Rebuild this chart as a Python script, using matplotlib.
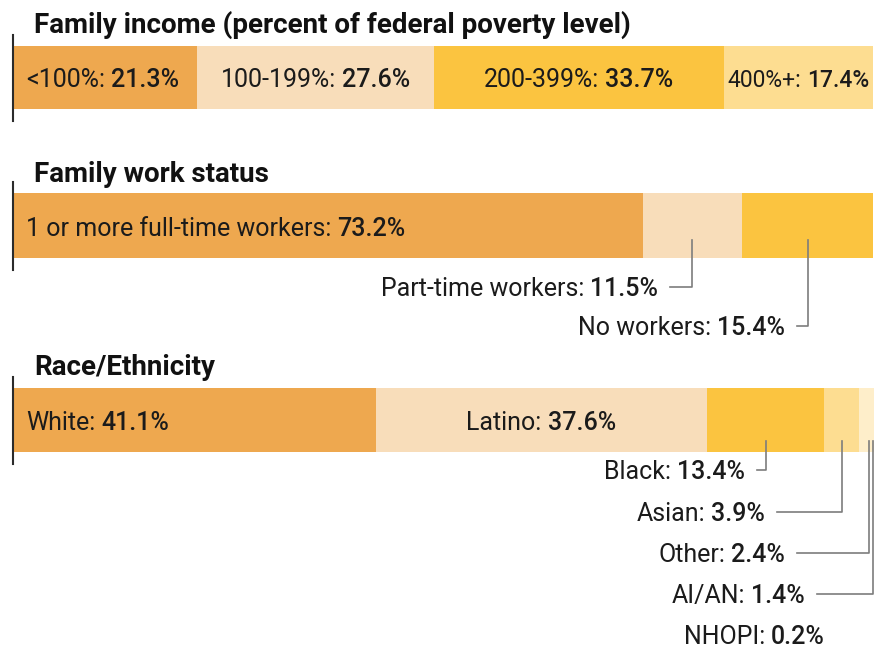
import numpy as np
import matplotlib
matplotlib.use("Agg")
import matplotlib.pyplot as plt
from matplotlib.transforms import Affine2D
from matplotlib.lines import Line2D

# data
income_labels = ["<100%", "100-199%", "200-399%", "400%+"]
income_values = [21.3, 27.6, 33.7, 17.4]

work_labels = ["1 or more full-time workers", "Part-time workers", "No workers"]
work_values = [73.2, 11.5, 15.4]

race_labels = ["White", "Latino", "Black", "Asian", "Other", "AI/AN", "NHOPI"]
race_values = [41.1, 37.6, 13.4, 3.9, 2.4, 1.4, 0.2]

# layout (pixels, measured from the top left corner)
W, H = 874, 649
LEFT = 14
FONT = "Roboto"
TXT = "#1b1b1b"
LEADER = "#7d7d7d"
colors = ["#EEA84F", "#F8DDBA", "#FBC440", "#FDDD91", "#FEEECA", "#EEA84F", "#F8DDBA"]

fig = plt.figure(figsize=(W / 100, H / 100), dpi=100)
fig.patch.set_facecolor("white")
pix = Affine2D().scale(1, -1).translate(0, H)
renderer = fig.canvas.get_renderer()


def bar_axes(top, bottom, width_px):
    ax = fig.add_axes([LEFT / W, 1 - bottom / H, width_px / W, (bottom - top) / H])
    ax.set_xlim(0, 100)
    ax.set_ylim(0, 1)
    ax.axis("off")
    return ax


def draw_bar(ax, values):
    v = np.array(values)
    starts = np.concatenate([[0], np.cumsum(v)[:-1]])
    ax.barh(0.5, v, left=starts, height=1, color=colors[:len(v)], edgecolor="none")
    return starts, v


def to_px(ax, x):
    return ax.transData.transform((x, 0))[0]


def label(x, y, prefix, value, ha, size=18, max_w=None):
    t1 = fig.text(0, y, prefix + ":", transform=pix, fontsize=size, family=FONT,
                  color=TXT, va="baseline")
    t2 = fig.text(0, y, value, transform=pix, fontsize=size, family=FONT,
                  fontweight="medium", color=TXT, va="baseline")
    gap = size * 0.33
    w1 = t1.get_window_extent(renderer).width
    w2 = t2.get_window_extent(renderer).width
    total = w1 + gap + w2
    if max_w is not None and total > max_w:
        f = max_w / total
        t1.set_fontsize(size * f)
        t2.set_fontsize(size * f)
        gap *= f
        w1 *= f
        w2 *= f
        total *= f
    x0 = {"left": x, "center": x - total / 2, "right": x - total}[ha]
    t1.set_x(x0)
    t2.set_x(x0 + w1 + gap)


def panel(title, title_y, top, bottom, width_px, labels, values, n_inside,
          callouts=(), leader_top=None, leaders=()):
    fig.text(34, title_y, title, transform=pix, fontsize=20, fontweight="bold",
             family=FONT, color="#111111", va="baseline")
    ax = bar_axes(top, bottom, width_px)
    starts, v = draw_bar(ax, values)
    x_left = to_px(ax, 0)
    fig.add_artist(Line2D([x_left - 1, x_left - 1], [top - 11, bottom + 12],
                          transform=pix, color="#2b2b2b", lw=1.5))
    base = bottom - 22
    for i in range(n_inside):
        s, e = to_px(ax, starts[i]), to_px(ax, starts[i] + v[i])
        txt = f"{v[i]:.1f}%"
        if i == 0:
            label(s + 12, base, labels[i], txt, "left", max_w=e - s - 16)
        else:
            label((s + e) / 2, base, labels[i], txt, "center", max_w=e - s - 8)
    for k, (tx, ly) in enumerate(callouts):
        i = n_inside + k
        label(tx, ly + 9, labels[i], f"{v[i]:.1f}%", "right")
        if leaders[k]:
            lx = min(to_px(ax, starts[i] + v[i] / 2), W - 1.5)
            fig.add_artist(Line2D([lx, lx, tx + 12], [leader_top, ly, ly],
                                  transform=pix, color=LEADER, lw=1.2))
    return ax


panel("Family income (percent of federal poverty level)", 33, 46, 109, 859,
      income_labels, income_values, 4)

panel("Family work status", 182, 193, 258, 859,
      work_labels, work_values, 1,
      callouts=[(658, 287), (785, 326)], leader_top=240, leaders=[True, True])

panel("Race/Ethnicity", 375, 388, 452, 880,
      race_labels, race_values, 2,
      callouts=[(745, 470), (765, 512), (785, 553), (805, 594), (825, 635)],
      leader_top=441, leaders=[True, True, True, True, False])

fig.savefig("out.png", dpi=100, facecolor="white")
